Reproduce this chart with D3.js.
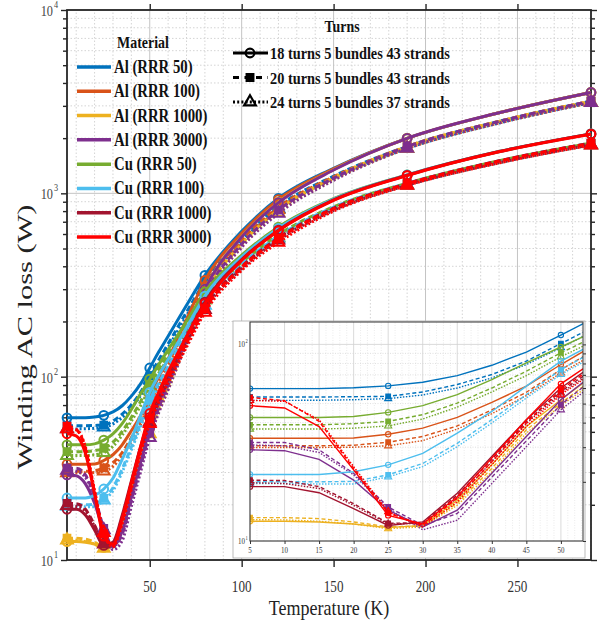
<!DOCTYPE html>
<html>
<head>
<meta charset="utf-8">
<script src="https://cdn.jsdelivr.net/npm/d3@7"></script>
<style>
  body { margin: 0; background: #fff; }
  text { font-family: "Liberation Serif", "Times New Roman", serif; }
</style>
</head>
<body>
<svg id="chart" width="608" height="626"></svg>
<script>
'use strict';

// temperatures (K) at which losses were computed
const temps = [5, 10, 15, 20, 25, 30, 35, 40, 45, 50, 55, 60, 70, 80, 100, 120, 150, 190, 240, 290];
const markerTemps = [5, 25, 50, 80, 120, 190, 290];

// winding AC loss (W): 18 turns / 20 turns / 24 turns
const al50_18 = [59.6, 59.6, 59.6, 60.2, 61.5, 64.2, 69.4, 78.3, 91.4, 111.6, 137, 166, 245, 357, 620, 940, 1370, 1995, 2750, 3550];
const al50_20 = [54.0, 54.0, 54.0, 54.2, 54.4, 57.3, 62.5, 70.3, 82.2, 101, 124, 151, 225, 330, 565, 850, 1240, 1800, 2470, 3180];
const al50_24 = [51.9, 51.9, 52.0, 52.3, 53.0, 55.3, 60.0, 67.5, 79.0, 96.2, 118, 144, 215, 318, 548, 825, 1210, 1760, 2420, 3130];

const al100_18 = [33.3, 33.3, 33.3, 33.4, 34.9, 37.5, 42.5, 50.7, 61.3, 79.0, 100, 125, 205, 335, 605, 925, 1360, 1995, 2750, 3550];
const al100_20 = [30.5, 30.5, 30.5, 30.7, 31.8, 34.0, 38.5, 46.5, 57.1, 74.5, 94, 118, 190, 310, 555, 840, 1230, 1800, 2470, 3180];
const al100_24 = [29.9, 29.9, 29.9, 30.0, 30.5, 32.4, 37.1, 44.4, 54.9, 71.6, 90, 113, 182, 300, 538, 815, 1200, 1760, 2420, 3130];

const al1000_18 = [12.6, 12.6, 12.5, 12.2, 11.7, 12.0, 16.1, 24.4, 38.2, 52.3, 71, 93, 170, 300, 580, 895, 1345, 1995, 2750, 3550];
const al1000_20 = [13.15, 13.15, 13.0, 12.5, 11.8, 11.9, 15.6, 23.4, 36.8, 50.3, 68, 89, 160, 280, 530, 815, 1215, 1800, 2470, 3180];
const al1000_24 = [12.85, 12.8, 12.6, 12.2, 11.56, 11.8, 15.2, 22.5, 35.4, 48.8, 65, 85, 153, 270, 512, 785, 1185, 1760, 2420, 3130];

const al3000_18 = [29.1, 28.8, 26.0, 20.4, 14.35, 11.8, 14.35, 22.1, 34.0, 52.3, 72, 95, 172, 300, 578, 890, 1340, 1995, 2750, 3550];
const al3000_20 = [31.7, 31.7, 29.1, 22.1, 14.9, 12.0, 13.8, 21.1, 32.3, 49.3, 68, 90, 162, 280, 528, 810, 1210, 1800, 2470, 3180];
const al3000_24 = [30.8, 30.5, 28.2, 21.7, 14.6, 11.4, 12.75, 19.6, 30.2, 46.5, 64, 85, 152, 268, 508, 778, 1178, 1760, 2420, 3130];

const cu50_18 = [42.5, 42.5, 42.5, 43.0, 45.1, 48.8, 55.5, 66.2, 80.6, 97, 117, 140, 200, 290, 460, 655, 935, 1260, 1690, 2110];
const cu50_20 = [39.0, 39.0, 39.0, 39.5, 40.6, 43.9, 50.3, 60.0, 73.1, 90.6, 110, 132, 188, 272, 420, 595, 845, 1135, 1505, 1880];
const cu50_24 = [37.1, 37.1, 37.1, 37.5, 38.5, 41.7, 48.0, 57.3, 69.4, 86.5, 105, 126, 180, 262, 405, 575, 820, 1110, 1470, 1840];

const cu100_18 = [21.8, 21.8, 21.8, 22.5, 24.4, 27.9, 35.4, 45.6, 61.3, 82.2, 102, 124, 185, 275, 450, 645, 930, 1260, 1690, 2110];
const cu100_20 = [20.0, 20.0, 20.0, 20.1, 21.7, 24.8, 31.4, 41.4, 55.5, 74.5, 93, 114, 172, 255, 410, 585, 840, 1135, 1505, 1880];
const cu100_24 = [19.6, 19.6, 19.5, 19.5, 21.2, 23.9, 30.2, 39.8, 53.4, 70.3, 88, 108, 163, 245, 398, 568, 818, 1110, 1470, 1840];

const cu1000_18 = [18.9, 18.9, 17.6, 14.6, 12.0, 12.5, 17.5, 26.9, 41.4, 60.0, 80, 103, 165, 255, 435, 630, 920, 1255, 1690, 2110];
const cu1000_20 = [20.4, 20.3, 18.9, 15.5, 12.3, 12.4, 17.1, 26.0, 40.6, 57.7, 76, 98, 155, 240, 398, 572, 830, 1130, 1505, 1880];
const cu1000_24 = [19.8, 19.6, 18.5, 15.2, 12.2, 12.3, 16.5, 25.3, 39.5, 56.6, 74, 95, 150, 232, 388, 555, 808, 1108, 1470, 1840];

const cu3000_18 = [48.8, 47.5, 38.2, 23.0, 13.5, 12.2, 16.8, 26.4, 41.4, 63.0, 83, 106, 165, 250, 430, 625, 915, 1250, 1685, 2100];
const cu3000_20 = [53.8, 51.7, 40.6, 23.4, 13.9, 12.0, 16.5, 25.3, 39.8, 58.9, 78, 99, 153, 235, 395, 565, 825, 1128, 1500, 1875];
const cu3000_24 = [51.9, 51.3, 41.4, 23.9, 14.1, 11.8, 15.8, 24.4, 38.2, 55.5, 73, 93, 145, 224, 380, 540, 800, 1105, 1465, 1835];

const materialNames = ["Al (RRR 50)", "Al (RRR 100)", "Al (RRR 1000)", "Al (RRR 3000)",
                       "Cu (RRR 50)", "Cu (RRR 100)", "Cu (RRR 1000)", "Cu (RRR 3000)"];
const materialColors = ["#0072BD", "#D95319", "#EDB120", "#7E2F8E",
                        "#77AC30", "#4DBEEE", "#A2142F", "#FF0000"];
const turnNames = ["18 turns 5 bundles 43 strands", "20 turns 5 bundles 43 strands", "24 turns 5 bundles 37 strands"];

const xTicks = [50, 100, 150, 200, 250];
const yTicks = [10, 100, 1000, 10000];
const insetXTicks = [5, 10, 15, 20, 25, 30, 35, 40, 45, 50];
const insetYTicks = [10, 100];

const materials = materialNames.map((name, i) => ({
    name,
    color: materialColors[i],
    runs: [
        [al50_18, al50_20, al50_24],
        [al100_18, al100_20, al100_24],
        [al1000_18, al1000_20, al1000_24],
        [al3000_18, al3000_20, al3000_24],
        [cu50_18, cu50_20, cu50_24],
        [cu100_18, cu100_20, cu100_24],
        [cu1000_18, cu1000_20, cu1000_24],
        [cu3000_18, cu3000_20, cu3000_24]
    ][i]
}));

const turnStyles = [
    { dash: null, inDash: null, symbol: d3.symbolCircle, filled: false },
    { dash: "6,3.5", inDash: "4,2.5", symbol: d3.symbolSquare, filled: true },
    { dash: "2,2.2", inDash: "1.5,1.5", symbol: d3.symbolTriangle, filled: false }
];

const svg = d3.select("#chart");
const SX = 0.82;   // the picture is squeezed horizontally
const ink = "#262626";

function ctext(parent, x, y, str, size, opts = {}) {
    return parent.append("text")
        .attr("transform", `translate(${x},${y}) scale(${SX},1)`)
        .attr("text-anchor", opts.anchor || "start")
        .style("font-size", size + "px")
        .style("font-weight", opts.bold ? "bold" : "normal")
        .attr("fill", opts.fill || "#111")
        .text(str);
}

function getConfig() {
    let x = d3.scaleLinear().domain([5, 290]).range([67, 591]);
    let y = d3.scaleLog().domain([10, 10000]).range([560, 10]);
    let ix = d3.scaleLinear().domain([5, 53.2]).range([250, 583]);
    let iy = d3.scaleLog().domain([10, 130]).range([541, 322]);
    return { x, y, ix, iy };
}

function drawGrid(c) {
    let { x, y } = c;
    let g = svg.append("g");
    let minorX = d3.range(10, 291, 10).filter(d => d % 50 !== 0);
    let minorY = y.ticks().filter(d => !yTicks.includes(d));
    g.selectAll(".mx").data(minorX).enter().append("line")
        .attr("x1", d => x(d)).attr("x2", d => x(d))
        .attr("y1", y.range()[0]).attr("y2", y.range()[1])
        .attr("stroke", "#d4d4d4").attr("stroke-dasharray", "1.5,2");
    g.selectAll(".my").data(minorY).enter().append("line")
        .attr("y1", d => y(d)).attr("y2", d => y(d))
        .attr("x1", x.range()[0]).attr("x2", x.range()[1])
        .attr("stroke", "#d4d4d4").attr("stroke-dasharray", "1.5,2");
    g.selectAll(".gx").data(xTicks).enter().append("line")
        .attr("x1", d => x(d)).attr("x2", d => x(d))
        .attr("y1", y.range()[0]).attr("y2", y.range()[1])
        .attr("stroke", "#c4c4c4");
    g.selectAll(".gy").data(yTicks).enter().append("line")
        .attr("y1", d => y(d)).attr("y2", d => y(d))
        .attr("x1", x.range()[0]).attr("x2", x.range()[1])
        .attr("stroke", "#c4c4c4");
}

function styleAxis(sel) {
    sel.select(".domain").remove();
    sel.selectAll(".tick line").attr("stroke", ink).attr("stroke-width", 1.4);
}

function drawAxes(c) {
    let { x, y } = c;
    let [x0, x1] = x.range();
    let [y0, y1] = y.range();

    svg.append("g").attr("transform", `translate(0,${y0})`)
        .call(d3.axisBottom(x).tickValues(xTicks).tickSize(7).tickSizeOuter(0).tickFormat(""))
        .call(styleAxis);
    svg.append("g").attr("transform", `translate(0,${y1})`)
        .call(d3.axisTop(x).tickValues(xTicks).tickSize(6).tickSizeOuter(0).tickFormat(""))
        .call(styleAxis);

    let minorY = y.ticks().filter(d => !yTicks.includes(d));
    svg.append("g").attr("transform", `translate(${x0},0)`)
        .call(d3.axisLeft(y).tickValues(yTicks).tickSize(6).tickSizeOuter(0).tickFormat(""))
        .call(styleAxis);
    svg.append("g").attr("transform", `translate(${x0},0)`)
        .call(d3.axisLeft(y).tickValues(minorY).tickSize(4).tickSizeOuter(0).tickFormat(""))
        .call(styleAxis);
    svg.append("g").attr("transform", `translate(${x1},0)`)
        .call(d3.axisRight(y).tickValues(yTicks).tickSize(6).tickSizeOuter(0).tickFormat(""))
        .call(styleAxis);
    svg.append("g").attr("transform", `translate(${x1},0)`)
        .call(d3.axisRight(y).tickValues(minorY).tickSize(4).tickSizeOuter(0).tickFormat(""))
        .call(styleAxis);

    svg.append("rect")
        .attr("x", x0).attr("y", y1).attr("width", x1 - x0).attr("height", y0 - y1)
        .attr("fill", "none").attr("stroke", ink).attr("stroke-width", 1.8);

    xTicks.forEach(d => ctext(svg, x(d), 592, d, 16, { anchor: "middle", fill: "#333" }));

    yTicks.forEach(d => {
        let e = Math.round(Math.log10(d));
        ctext(svg, 53, y(d) + 6, "10", 15, { anchor: "end", fill: "#444" });
        ctext(svg, 54, y(d) - 2, e, 10, { fill: "#444" });
    });

    ctext(svg, 329, 615, "Temperature (K)", 22, { anchor: "middle", fill: "#222" });

    svg.append("text")
        .attr("transform", "translate(32,337) rotate(-90) scale(1,0.8)")
        .attr("text-anchor", "middle")
        .attr("textLength", 265).attr("lengthAdjust", "spacingAndGlyphs")
        .style("font-size", "25px").attr("fill", "#222")
        .text("Winding AC loss (W)");
}

function drawMarker(parent, px, py, style, color, size, sw) {
    parent.append("path")
        .attr("transform", `translate(${px},${py})`)
        .attr("d", d3.symbol().type(style.symbol).size(size)())
        .attr("fill", style.filled ? color : "none")
        .attr("stroke", color).attr("stroke-width", sw);
}

function drawMainLines(c) {
    let { x, y } = c;
    let line = d3.line().x(d => x(d[0])).y(d => y(d[1])).curve(d3.curveMonotoneX);
    let g = svg.append("g");
    materials.forEach(m => {
        m.runs.forEach((vals, j) => {
            let st = turnStyles[j];
            g.append("path")
                .attr("d", line(temps.map((t, k) => [t, vals[k]])))
                .attr("fill", "none").attr("stroke", m.color)
                .attr("stroke-width", 3)
                .attr("stroke-dasharray", st.dash);
            markerTemps.forEach(t => {
                let k = temps.indexOf(t);
                drawMarker(g, x(t), y(vals[k]), st, m.color, st.symbol === d3.symbolSquare ? 45 : 60, 2);
            });
        });
    });
}

function drawInset(c) {
    let { ix, iy } = c;
    let [x0, x1] = ix.range();
    let [y0, y1] = iy.range();
    let g = svg.append("g");

    g.append("rect").attr("x", 233).attr("y", 321).attr("width", 352).attr("height", 237)
        .attr("fill", "#fff").attr("stroke", "#aaa").attr("stroke-width", 0.8);

    let minorX = d3.range(6, 54, 1).filter(d => d % 5 !== 0);
    let minorY = iy.ticks().filter(d => !insetYTicks.includes(d));
    g.selectAll(".imx").data(minorX).enter().append("line")
        .attr("x1", d => ix(d)).attr("x2", d => ix(d)).attr("y1", y0).attr("y2", y1)
        .attr("stroke", "#e2e2e2").attr("stroke-dasharray", "1,1.5").attr("stroke-width", 0.7);
    g.selectAll(".imy").data(minorY).enter().append("line")
        .attr("y1", d => iy(d)).attr("y2", d => iy(d)).attr("x1", x0).attr("x2", x1)
        .attr("stroke", "#d8d8d8").attr("stroke-dasharray", "1,1.5").attr("stroke-width", 0.8);
    g.selectAll(".igx").data(insetXTicks).enter().append("line")
        .attr("x1", d => ix(d)).attr("x2", d => ix(d)).attr("y1", y0).attr("y2", y1)
        .attr("stroke", "#d0d0d0").attr("stroke-width", 0.8);
    g.selectAll(".igy").data(insetYTicks).enter().append("line")
        .attr("y1", d => iy(d)).attr("y2", d => iy(d)).attr("x1", x0).attr("x2", x1)
        .attr("stroke", "#d0d0d0").attr("stroke-width", 0.8);

    svg.append("clipPath").attr("id", "insetClip")
        .append("rect").attr("x", x0).attr("y", y1).attr("width", x1 - x0).attr("height", y0 - y1);

    let line = d3.line().x(d => ix(d[0])).y(d => iy(d[1]));
    let lines = g.append("g").attr("clip-path", "url(#insetClip)");
    materials.forEach(m => {
        m.runs.forEach((vals, j) => {
            let st = turnStyles[j];
            lines.append("path")
                .attr("d", line(temps.map((t, k) => [t, vals[k]])))
                .attr("fill", "none").attr("stroke", m.color)
                .attr("stroke-width", 1.4)
                .attr("stroke-dasharray", st.inDash);
            [5, 25, 50].forEach(t => {
                let k = temps.indexOf(t);
                drawMarker(lines, ix(t), iy(vals[k]), st, m.color, 22, 1.1);
            });
        });
    });

    g.append("g").attr("transform", `translate(0,${y0})`)
        .call(d3.axisBottom(ix).tickValues(insetXTicks).tickSize(3).tickSizeOuter(0).tickFormat(""))
        .call(sel => { sel.select(".domain").remove(); sel.selectAll(".tick line").attr("stroke", "#333"); });
    g.append("g").attr("transform", `translate(${x1},0)`)
        .call(d3.axisRight(iy).tickValues(iy.ticks()).tickSize(3).tickSizeOuter(0).tickFormat(""))
        .call(sel => { sel.select(".domain").remove(); sel.selectAll(".tick line").attr("stroke", "#333"); });
    g.append("rect").attr("x", x0).attr("y", y1).attr("width", x1 - x0).attr("height", y0 - y1)
        .attr("fill", "none").attr("stroke", "#333").attr("stroke-width", 1);

    insetXTicks.forEach(d => ctext(g, ix(d), 553, d, 8.5, { anchor: "middle", fill: "#333" }));
    insetYTicks.forEach(d => {
        let e = Math.round(Math.log10(d));
        ctext(g, 245, iy(d) + 3, "10", 8.5, { anchor: "end", fill: "#333" });
        ctext(g, 245.5, iy(d) - 1, e, 5.5, { fill: "#333" });
    });
}

function drawLegends() {
    // material legend
    let g = svg.append("g");
    let rowY = d3.scaleLinear().domain([0, 7]).range([67, 237]);
    ctext(g, 143, 48, "Material", 17, { anchor: "middle", bold: true });
    materials.forEach((m, i) => {
        g.append("line").attr("x1", 77).attr("x2", 111)
            .attr("y1", rowY(i)).attr("y2", rowY(i))
            .attr("stroke", m.color).attr("stroke-width", 3.5);
        ctext(g, 114, rowY(i) + 6, m.name, 18, { bold: true });
    });

    // turns legend
    let t = svg.append("g");
    let turnY = d3.scaleLinear().domain([0, 2]).range([53, 102]);
    ctext(t, 342, 32, "Turns", 17, { anchor: "middle", bold: true });
    turnNames.forEach((name, j) => {
        let st = turnStyles[j];
        t.append("line").attr("x1", 233).attr("x2", 268)
            .attr("y1", turnY(j)).attr("y2", turnY(j))
            .attr("stroke", "#000").attr("stroke-width", 3)
            .attr("stroke-dasharray", j === 1 ? "6,5.5" : st.dash);
        drawMarker(t, 250, turnY(j), st, "#000", st.symbol === d3.symbolSquare ? 45 : 60, 2.2);
        ctext(t, 270, turnY(j) + 6, name, 17.5, { bold: true });
    });
}

function drawChart() {
    let c = getConfig();
    drawGrid(c);
    drawAxes(c);
    drawMainLines(c);
    drawInset(c);
    drawLegends();
}

drawChart();
</script>
</body>
</html>
